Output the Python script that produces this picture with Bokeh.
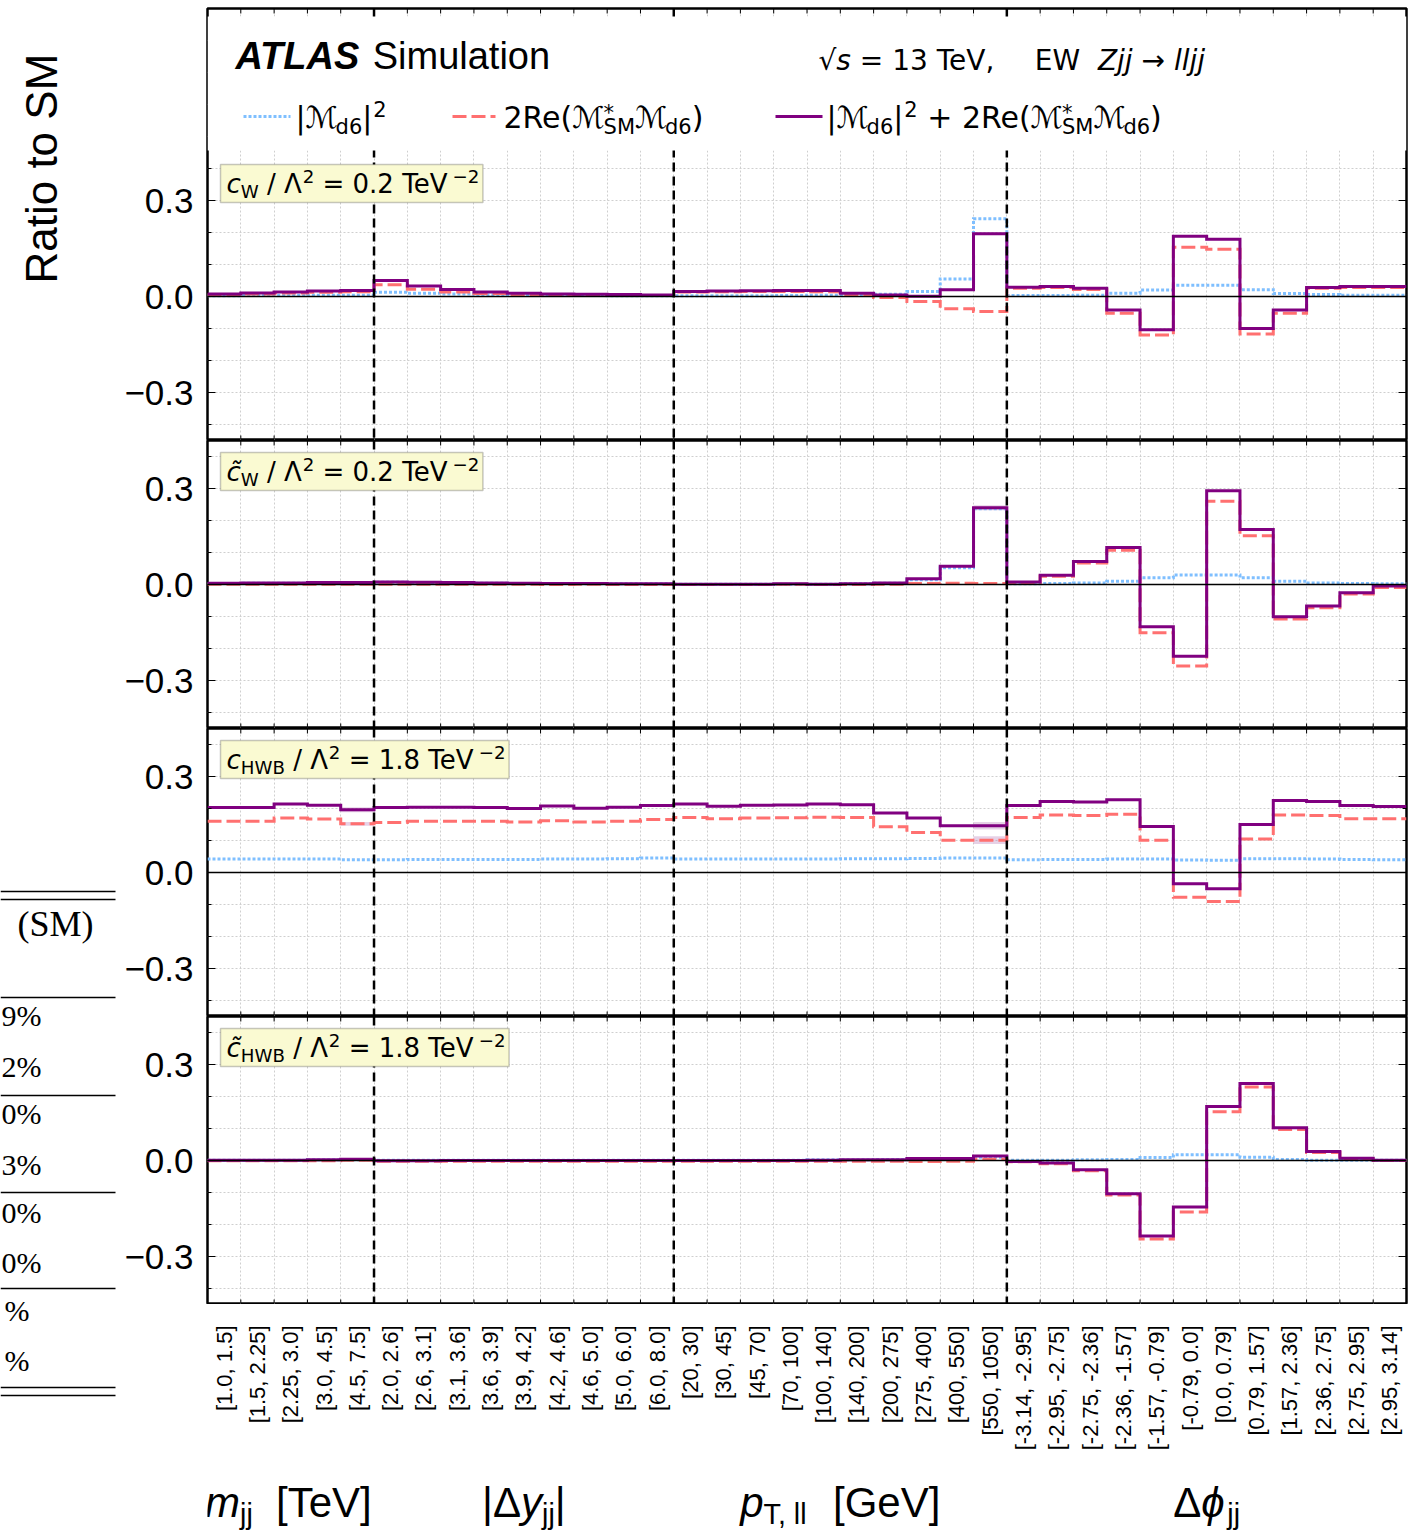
import math
import re
from bokeh.plotting import figure
from bokeh.models import Range1d, FixedTicker, Span, BoxAnnotation, Label, Grid
from bokeh.layouts import row, column
from bokeh.embed import file_html
from bokeh.resources import INLINE
from bokeh.core.properties import value

# ---------------- data ----------------
mjj_bins = ["[1.0, 1.5]", "[1.5, 2.25]", "[2.25, 3.0]", "[3.0, 4.5]", "[4.5, 7.5]"]
dy_bins = ["[2.0, 2.6]", "[2.6, 3.1]", "[3.1, 3.6]", "[3.6, 3.9]", "[3.9, 4.2]",
           "[4.2, 4.6]", "[4.6, 5.0]", "[5.0, 6.0]", "[6.0, 8.0]"]
pt_bins = ["[20, 30]", "[30, 45]", "[45, 70]", "[70, 100]", "[100, 140]",
           "[140, 200]", "[200, 275]", "[275, 400]", "[400, 550]", "[550, 1050]"]
dphi_bins = ["[-3.14, -2.95]", "[-2.95, -2.75]", "[-2.75, -2.36]", "[-2.36, -1.57]",
             "[-1.57, -0.79]", "[-0.79, 0.0]", "[0.0, 0.79]", "[0.79, 1.57]",
             "[1.57, 2.36]", "[2.36, 2.75]", "[2.75, 2.95]", "[2.95, 3.14]"]

# |M_d6|^2 (blue dotted), 2Re(M*_SM M_d6) (red dashed), sum (purple)
cw_sq = [0.002, 0.003, 0.003, 0.004, 0.004,
         0.013, 0.010, 0.008, 0.005, 0.004, 0.003, 0.003, 0.002, 0.002,
         0.002, 0.002, 0.002, 0.003, 0.004, 0.004, 0.007, 0.016, 0.055, 0.243,
         0.003, 0.003, 0.004, 0.010, 0.020, 0.035, 0.035, 0.021, 0.009, 0.006, 0.004, 0.004]
cw_int = [0.006, 0.008, 0.011, 0.013, 0.015,
          0.037, 0.023, 0.014, 0.009, 0.006, 0.005, 0.004, 0.004, 0.003,
          0.014, 0.015, 0.016, 0.016, 0.015, 0.006, -0.003, -0.016, -0.038, -0.047,
          0.026, 0.028, 0.022, -0.052, -0.120, 0.154, 0.148, -0.117, -0.052, 0.026, 0.028, 0.028]
cw_tot = [0.008, 0.011, 0.014, 0.017, 0.019,
          0.050, 0.033, 0.022, 0.014, 0.010, 0.008, 0.007, 0.006, 0.005,
          0.016, 0.017, 0.018, 0.019, 0.019, 0.010, 0.005, 0.001, 0.021, 0.196,
          0.029, 0.031, 0.026, -0.042, -0.104, 0.188, 0.179, -0.100, -0.042, 0.028, 0.031, 0.031]

cwt_sq = [0.003, 0.004, 0.004, 0.005, 0.005,
          0.007, 0.006, 0.005, 0.004, 0.003, 0.003, 0.002, 0.002, 0.002,
          0.001, 0.001, 0.001, 0.001, 0.001, 0.002, 0.004, 0.015, 0.052, 0.237,
          0.002, 0.003, 0.005, 0.010, 0.021, 0.030, 0.030, 0.021, 0.010, 0.005, 0.003, 0.002]
cwt_int = [0.001, 0.001, 0.001, 0.001, 0.001,
           0.001, 0.001, 0.001, 0.001, 0.001, 0.000, 0.001, 0.000, 0.000,
           0.000, 0.000, 0.000, 0.001, 0.000, 0.000, 0.001, 0.003, 0.004, 0.003,
           0.005, 0.026, 0.067, 0.107, -0.151, -0.255, 0.260, 0.152, -0.108, -0.073, -0.030, -0.009]
cwt_tot = [0.004, 0.005, 0.005, 0.006, 0.006,
           0.008, 0.007, 0.006, 0.005, 0.004, 0.003, 0.003, 0.002, 0.002,
           0.001, 0.001, 0.001, 0.002, 0.001, 0.002, 0.005, 0.018, 0.057, 0.240,
           0.008, 0.029, 0.072, 0.116, -0.132, -0.224, 0.293, 0.172, -0.101, -0.067, -0.026, -0.005]

chwb_sq = [0.042, 0.042, 0.042, 0.042, 0.040,
           0.040, 0.041, 0.041, 0.041, 0.041, 0.042, 0.042, 0.043, 0.045,
           0.042, 0.042, 0.042, 0.042, 0.042, 0.043, 0.043, 0.044, 0.045, 0.045,
           0.040, 0.041, 0.041, 0.042, 0.042, 0.039, 0.038, 0.043, 0.043, 0.042, 0.041, 0.040]
chwb_int = [0.160, 0.160, 0.170, 0.167, 0.152,
            0.156, 0.160, 0.160, 0.160, 0.158, 0.162, 0.158, 0.160, 0.166,
            0.172, 0.168, 0.170, 0.171, 0.173, 0.172, 0.143, 0.125, 0.101, 0.101,
            0.172, 0.180, 0.178, 0.182, 0.101, -0.077, -0.091, 0.105, 0.180, 0.178, 0.168, 0.168]
chwb_tot = [0.203, 0.203, 0.214, 0.210, 0.196,
            0.203, 0.204, 0.204, 0.203, 0.200, 0.208, 0.201, 0.204, 0.209,
            0.214, 0.207, 0.210, 0.211, 0.214, 0.212, 0.186, 0.170, 0.146, 0.146,
            0.209, 0.222, 0.220, 0.227, 0.144, -0.035, -0.051, 0.150, 0.225, 0.222, 0.209, 0.206]

chwbt_sq = [0.001, 0.001, 0.001, 0.002, 0.002,
            0.001, 0.001, 0.001, 0.001, 0.001, 0.001, 0.001, 0.001, 0.001,
            0.001, 0.001, 0.001, 0.001, 0.002, 0.002, 0.003, 0.005, 0.006, 0.010,
            0.001, 0.001, 0.002, 0.003, 0.009, 0.018, 0.018, 0.010, 0.003, 0.001, 0.001, 0.001]
chwbt_int = [-0.001, -0.001, -0.001, -0.001, 0.001,
             -0.002, -0.002, -0.002, -0.002, -0.002, -0.002, -0.002, -0.002, -0.002,
             -0.002, -0.002, -0.002, -0.002, -0.002, -0.002, -0.002, -0.003, -0.002, 0.004,
             -0.004, -0.010, -0.032, -0.108, -0.245, -0.161, 0.152, 0.230, 0.097, 0.025, 0.005, 0.000]
chwbt_tot = [0.001, 0.001, 0.001, 0.002, 0.004,
             -0.001, -0.001, 0.000, 0.000, 0.000, 0.000, 0.000, 0.000, 0.000,
             0.000, 0.000, 0.000, 0.000, 0.001, 0.002, 0.002, 0.006, 0.006, 0.014,
             -0.003, -0.008, -0.029, -0.104, -0.236, -0.145, 0.169, 0.241, 0.102, 0.028, 0.007, 0.001]

# statistical bands (bin index -> half width)
tot_unc = [{23: 0.004}, {23: 0.008}, {4: 0.008, 23: 0.012}, {}]
int_unc = [{}, {}, {4: 0.006, 23: 0.012}, {}]

coef_names = ["c", "c\u0303", "c", "c\u0303"]
coef_subs = ["W", "W", "HWB", "HWB"]
coef_vals = ["0.2", "0.2", "1.8", "1.8"]

ytick_vals = [-0.3, 0.0, 0.3]
ytick_text = ["\u22120.3", "0.0", "0.3"]

group_titles = [
    [("m", "i"), ("jj", "sub"), ("  [TeV]", "n")],
    [("|\u0394", "n"), ("y", "i"), ("jj", "sub"), ("|", "n")],
    [("p", "i"), ("T, ll", "sub"), ("  [GeV]", "n")],
    [("\u0394", "n"), ("\u03d5", "i"), ("jj", "sub")],
]

table_head = "(SM)"
table_rows = ["9%", "2%", "0%", "3%", "0%", "0%", "%", "%"]

# ---------------- styling / geometry ----------------
BLUE = "#7fbfff"
SALMON = "#ff7070"
PURPLE = "#800080"
BAND = "#b67ab6"

bin_labels = mjj_bins + dy_bins + pt_bins + dphi_bins
group_sizes = [len(mjj_bins), len(dy_bins), len(pt_bins), len(dphi_bins)]
NB = len(bin_labels)
edges = list(range(NB + 1))
centers = [i + 0.5 for i in range(NB)]
group_bounds = []
acc = 0
for g in group_sizes:
    group_bounds.append((acc, acc + g))
    acc += g

FW = 1199
PXB = FW / NB
PXU = 320.0
LEFT_W = 118
BL = 89
BR = 6
TOP_PAD = 8
TOTAL_H = 1535
STRIP_H = TOTAL_H - TOP_PAD - int(round(1.35 * PXU)) - 3 * int(round(0.9 * PXU))
MID = 0.33  # distance from alphabetic baseline to text middle, in em

DV = {' ': .318, '|': .337, '\u2133': 1.0, 'd': .635, '6': .636, '2': .636,
      'R': .695, 'e': .615, '(': .390, ')': .390, '*': .500, 'S': .635, 'M': .863, '+': .838,
      '=': .838, '/': .337, '\u039b': .684, '.': .318, '0': .636, '1': .636, '8': .636,
      '3': .636, 'T': .611, 'V': .684, '\u2212': .70, 'c': .550, '\u0303': 0.0, 'W': .989,
      'H': .752, 'B': .686, 'Z': .685, 'j': .278, 'l': .278, '\u2192': .838, 'E': .632,
      's': .521, '\u221a': .636, ',': .318}
LS = {' ': .278, '[': .278, ']': .278, 'T': .611, 'e': .556, 'V': .667, 'G': .778, 'm': .833,
      'j': .222, 'y': .5, 'p': .556, 'l': .222, ',': .278, '|': .26, '\u0394': .668,
      '\u03d5': .62, 'A': .722, 'L': .611, 'S': .667, 'i': .222, 'u': .556, 'a': .556,
      't': .278, 'o': .556, 'n': .556}


def tw(s, size, table):
    return sum(table.get(ch, 0.6) for ch in s) * size


def layout_run(segs, size, table, sub_scale=0.7, sub_drop=0.2):
    items = []

    def emit(x, dy, txt, sz, st):
        # SVG collapses leading / repeated spaces: split and place pieces explicitly
        for m in re.finditer(r'\S+(?: \S+)*', txt):
            items.append((x + tw(txt[:m.start()], sz, table), dy, m.group(), sz, st))
        return tw(txt, sz, table)

    x = 0.0
    for txt, kind in segs:
        if kind == "stack":
            sup, sub = txt
            s2 = size * sub_scale
            emit(x, -0.26 * size, sup, s2, "normal")
            emit(x, sub_drop * size, sub, s2, "normal")
            x += max(tw(sup, s2, table), tw(sub, s2, table))
        elif kind == "sub":
            s2 = size * sub_scale
            x += emit(x, sub_drop * size, txt, s2, "normal")
        elif kind == "sup":
            s2 = size * sub_scale
            x += emit(x + 0.03 * size, -0.4 * size, txt, s2, "normal") + 0.03 * size
        else:
            st = {"n": "normal", "i": "italic", "bi": "bold italic"}[kind]
            x += emit(x, 0.0, txt, size, st)
    return items, x


def place(plot, to_data, x0, y0, items, font):
    # y0 is the alphabetic baseline (pixels, downwards); labels are anchored at their middle
    for dx, dy, txt, sz, st in items:
        xd, yd = to_data(x0 + dx, y0 + dy - MID * sz)
        plot.add_layout(Label(x=xd, y=yd, text=txt, text_font=font,
                              text_font_size="%.1fpx" % sz, text_font_style=st,
                              text_color="black", text_baseline="middle",
                              text_align="left"))


def stepy(v):
    return list(v) + [v[-1]]


series = [(cw_sq, cw_int, cw_tot), (cwt_sq, cwt_int, cwt_tot),
          (chwb_sq, chwb_int, chwb_tot), (chwbt_sq, chwbt_int, chwbt_tot)]

panels = []
for i in range(4):
    ymax = 0.9 if i == 0 else 0.45
    ymin = -0.45
    fh = int(round((ymax - ymin) * PXU))
    p = figure(frame_width=FW, frame_height=fh, x_range=Range1d(0, NB),
               y_range=Range1d(ymin, ymax), x_axis_location=None,
               output_backend="svg", toolbar_location=None,
               min_border_left=BL, min_border_right=BR,
               min_border_top=(TOP_PAD if i == 0 else 0), min_border_bottom=0)
    p.background_fill_color = "white"
    p.border_fill_color = "white"
    p.outline_line_color = "black"
    p.outline_line_width = 2.5
    p.grid.visible = False

    yminor = [round(-0.4 + 0.1 * k, 1) for k in range(int(round((ymax - 0.05 + 0.4) / 0.1)) + 1)]
    p.add_layout(Grid(dimension=0, ticker=FixedTicker(ticks=edges[1:-1]),
                      grid_line_color="#cfcfcf", grid_line_dash="2 2", grid_line_width=1))
    p.add_layout(Grid(dimension=1, ticker=FixedTicker(ticks=yminor),
                      grid_line_color="#cfcfcf", grid_line_dash="2 2", grid_line_width=1))

    ax = p.yaxis[0]
    ax.ticker = FixedTicker(ticks=ytick_vals, minor_ticks=yminor)
    ax.major_label_overrides = {v: t for v, t in zip(ytick_vals, ytick_text)}
    ax.major_label_text_font = "Liberation Sans"
    ax.major_label_text_font_size = "35px"
    ax.major_label_text_color = "black"
    ax.major_label_standoff = 14
    ax.major_tick_in = 8
    ax.major_tick_out = 0
    ax.minor_tick_in = 4
    ax.minor_tick_out = 0
    ax.axis_line_color = None
    ax.major_tick_line_color = "black"
    ax.minor_tick_line_color = "black"

    n = len(edges) - 2
    p.segment(x0=edges[1:-1], y0=[ymin] * n, x1=edges[1:-1], y1=[ymin + 5 / PXU] * n,
              line_color="black", line_width=1)
    p.segment(x0=edges[1:-1], y0=[ymax] * n, x1=edges[1:-1], y1=[ymax - 5 / PXU] * n,
              line_color="black", line_width=1)
    rlen = [(8 if any(abs(v - t) < 1e-9 for t in ytick_vals) else 4) / PXB for v in yminor]
    p.segment(x0=[NB] * len(yminor), y0=yminor, x1=[NB - r for r in rlen], y1=yminor,
              line_color="black", line_width=1)

    sq, it, tot = series[i]
    for vals, unc in ((it, int_unc[i]), (tot, tot_unc[i])):
        ks = sorted(unc)
        if ks:
            p.quad(left=[k for k in ks], right=[k + 1 for k in ks],
                   bottom=[vals[k] - unc[k] for k in ks], top=[vals[k] + unc[k] for k in ks],
                   fill_color=BAND, fill_alpha=0.35, line_color=None)
    p.step(x=edges, y=stepy(sq), mode="after", line_color=BLUE, line_width=3,
           line_dash="3 2", line_join="miter")
    p.step(x=edges, y=stepy(it), mode="after", line_color=SALMON, line_width=3,
           line_dash="14 5", line_join="miter")
    p.step(x=edges, y=stepy(tot), mode="after", line_color=PURPLE, line_width=3,
           line_join="miter")

    p.add_layout(Span(location=0, dimension="width", line_color="black", line_width=1.5))
    for a, b in group_bounds[:-1]:
        p.add_layout(Span(location=b, dimension="height", line_color="black",
                          line_width=2.5, line_dash="9 5"))

    to_data = (lambda ym: (lambda a, b: (a / PXB, ym - b / PXU)))(ymax)

    if i == 0:
        # white legend area
        p.add_layout(BoxAnnotation(top=ymax - 8 / PXU, bottom=ymax - 142 / PXU,
                                   fill_color="white", fill_alpha=1.0, line_color=None))
        items, w = layout_run([("ATLAS", "bi"), (" Simulation", "n")], 38, LS)
        place(p, to_data, 28, 60, items, "Liberation Sans")
        items, w = layout_run([("\u221a", "n"), ("s", "i"), (" = 13 TeV,    EW  ", "n"),
                               ("Zjj \u2192 lljj", "i")], 28, DV)
        place(p, to_data, 611, 61, items, "DejaVu Sans")
        leg = [
            (36, 83, BLUE, "3 2", 88, [("|\u2133", "n"), ("d6", "sub"), ("|", "n"), ("2", "sup")]),
            (245, 288, SALMON, "14 5", 296, [("2Re(\u2133", "n"), (("*", "SM"), "stack"),
                                              ("\u2133", "n"), ("d6", "sub"), (")", "n")]),
            (568, 615, PURPLE, "solid", 619, [("|\u2133", "n"), ("d6", "sub"), ("|", "n"),
                                               ("2", "sup"), (" + 2Re(\u2133", "n"),
                                               (("*", "SM"), "stack"), ("\u2133", "n"),
                                               ("d6", "sub"), (")", "n")]),
        ]
        for xa0, xa1, col, dash, xt, segs in leg:
            r = p.segment(x0=[xa0 / PXB], y0=[ymax - 108 / PXU], x1=[xa1 / PXB],
                          y1=[ymax - 108 / PXU], line_color=col, line_width=3, line_dash=dash)
            r.level = "overlay"
            items, w = layout_run(segs, 30, DV)
            place(p, to_data, xt, 119, items, "DejaVu Sans")

    # coefficient box
    items, w = layout_run([(coef_names[i], "i"), (coef_subs[i], "sub"), (" / \u039b", "n"),
                           ("2", "sup"), (" = " + coef_vals[i] + " TeV", "n"),
                           ("\u22122", "sup")], 26, DV)
    box_top = 0.45 - 12 / PXU
    p.add_layout(BoxAnnotation(left=13 / PXB, right=(19 + w + 6) / PXB, top=box_top,
                               bottom=box_top - 38 / PXU, fill_color="#fafad2", fill_alpha=1.0,
                               line_color="#444444", line_width=1.5))
    place(p, to_data, 19, (ymax - box_top) * PXU + 28, items, "DejaVu Sans")
    panels.append(p)

# bottom strip: bin labels (rotated) and variable titles; y in pixels below the frame
sf = figure(frame_width=FW, frame_height=STRIP_H, x_range=Range1d(0, NB),
            y_range=Range1d(STRIP_H, 0), x_axis_location=None, y_axis_location=None,
            output_backend="svg", toolbar_location=None, min_border_left=BL,
            min_border_right=BR, min_border_top=0, min_border_bottom=0)
sf.outline_line_color = None
sf.grid.visible = False
sf.background_fill_color = "white"
sf.border_fill_color = "white"
sf.text(x=centers, y=[21] * NB, text=bin_labels, angle=math.pi / 2,
        text_align="right", text_baseline="middle", text_font=value("Liberation Sans"),
        text_font_size="22px", text_color="black")
for (a, b), segs in zip(group_bounds, group_titles):
    items, w = layout_run(segs, 42, LS, sub_scale=0.68, sub_drop=0.17)
    cx = (a + b) / 2 * PXB
    place(sf, lambda u, v: (u / PXB, v), cx - w / 2, STRIP_H - 19, items, "Liberation Sans")

# left strip: y label and the neighbouring table fragment (page pixel coordinates)
lf = figure(width=LEFT_W, height=TOTAL_H, x_range=Range1d(0, LEFT_W),
            y_range=Range1d(TOTAL_H, 0), x_axis_location=None, y_axis_location=None,
            output_backend="svg", toolbar_location=None, min_border=0)
lf.outline_line_color = None
lf.grid.visible = False
lf.background_fill_color = "white"
lf.border_fill_color = "white"
lf.add_layout(Label(x=41, y=162, text="Ratio to  SM", angle=math.pi / 2,
                    text_font="Liberation Sans", text_font_size="44px", text_color="black",
                    text_align="center", text_baseline="middle"))
rule_y = [891, 899, 997, 1095, 1192, 1288, 1387, 1395]
lf.segment(x0=[0] * len(rule_y), y0=rule_y, x1=[115] * len(rule_y), y1=rule_y,
           line_color="black", line_width=1.3)
lf.add_layout(Label(x=93, y=923, text=table_head, text_font="Liberation Serif",
                    text_font_size="36px", text_color="black", text_align="right",
                    text_baseline="middle"))
row_y = [1015, 1066, 1113, 1164, 1212, 1262, 1310, 1360]
row_x = [41, 41, 41, 41, 41, 41, 29, 29]
for t, yy, xx in zip(table_rows, row_y, row_x):
    lf.add_layout(Label(x=xx, y=yy, text=t, text_font="Liberation Serif",
                        text_font_size="30px", text_color="black", text_align="right",
                        text_baseline="middle"))

layout = row(lf, column(*panels, sf))
open("out.html", "w").write(file_html(layout, INLINE))
